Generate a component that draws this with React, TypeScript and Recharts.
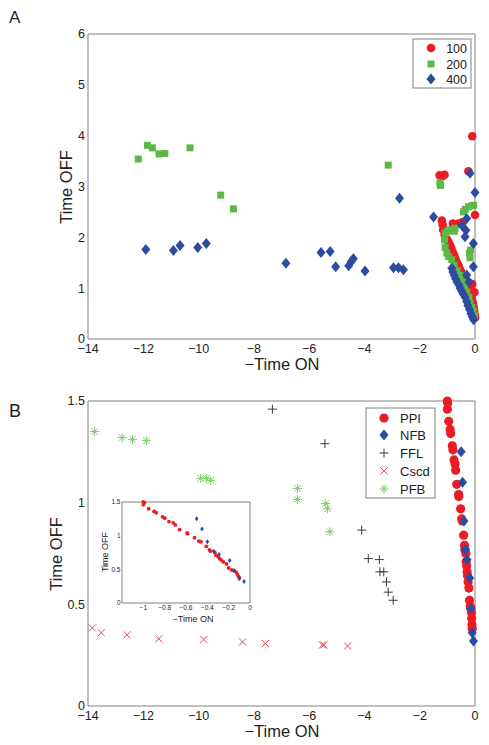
import { ScatterChart, Scatter, XAxis, YAxis } from 'recharts';

const RED = '#ec1c24';
const GREEN = '#5db946';
const BLUE = '#2c4ca2';
const CSCD = '#e5474d';
const PFB = '#7ccb6a';
const FFL = '#3a3a3a';
const AXIS = '#808080';
const TEXT = '#222';
const FONT = '"Liberation Sans", Arial, sans-serif';

// Panel A: -Time ON vs Time OFF for three input levels
const X_TICKS = [-14, -12, -10, -8, -6, -4, -2, 0];
const A_Y_TICKS = [0, 1, 2, 3, 4, 5, 6];
const B_Y_TICKS = [0, 0.5, 1, 1.5];
const INSET_X_TICKS = [-1, -0.8, -0.6, -0.4, -0.2, 0];

const level100 = [
  [-0.1, 3.99], [-0.24, 3.3], [-1.28, 3.22], [-1.1, 3.23], [-1.18, 3.2], [0, 2.44],
  [-1.2, 2.33], [-1.17, 2.25], [-0.8, 2.27], [-0.6, 2.27], [-0.45, 2.3],
  [-1.15, 2.15], [-1.1, 2.05], [-1.05, 1.98], [-1.0, 1.95], [-0.95, 1.9], [-0.9, 1.85],
  [-0.85, 1.78], [-0.8, 1.7], [-0.75, 1.64], [-0.7, 1.57], [-0.65, 1.5], [-0.6, 1.45],
  [-0.55, 1.38], [-0.5, 1.32], [-0.45, 1.25], [-0.4, 1.18], [-0.35, 1.12], [-0.3, 1.06],
  [-0.25, 1.0], [-0.2, 0.95], [-0.15, 0.88], [-0.12, 0.8], [-0.08, 0.72], [-0.05, 0.64],
  [-0.03, 0.56], [-0.01, 0.48], [0, 0.42], [-0.1, 1.08], [-0.02, 0.92], [-0.2, 1.1],
];

const level200 = [
  [-12.18, 3.54], [-11.85, 3.81], [-11.67, 3.76], [-11.43, 3.64], [-11.22, 3.65],
  [-10.31, 3.76], [-9.2, 2.83], [-8.74, 2.56], [-3.14, 3.42], [-1.27, 3.07], [-1.25, 3.02],
  [-0.42, 2.5], [-0.35, 2.55], [-0.24, 2.6], [-0.12, 2.62], [-0.05, 2.63],
  [-1.08, 2.08], [-1.0, 2.12], [-0.9, 2.15], [-0.72, 2.18], [-0.75, 2.12],
  [-1.1, 1.95], [-1.08, 1.8], [-1.02, 1.69], [-0.95, 1.62], [-0.84, 1.56], [-0.75, 1.45],
  [-0.65, 1.35], [-0.55, 1.25], [-0.45, 1.12], [-0.38, 1.02], [-0.3, 0.92], [-0.22, 0.82],
  [-0.18, 0.7], [-0.12, 0.62], [-0.06, 0.55], [-0.02, 0.45], [-0.2, 1.69], [-0.18, 1.6],
  [-0.16, 1.75],
];

const level400 = [
  [-11.91, 1.76], [-10.91, 1.74], [-10.67, 1.84], [-10.03, 1.8], [-9.72, 1.88],
  [-6.84, 1.49], [-5.57, 1.7], [-5.24, 1.72], [-5.04, 1.42], [-4.57, 1.44], [-4.48, 1.52],
  [-4.4, 1.58], [-3.98, 1.34], [-2.95, 1.4], [-2.77, 1.4], [-2.59, 1.36], [-2.73, 2.77],
  [-1.5, 2.4], [-0.18, 3.26], [0, 2.88], [-0.3, 2.37], [-0.48, 2.24], [-0.33, 2.14],
  [-0.36, 2.01], [-0.06, 1.88], [-0.06, 1.42], [-0.84, 1.39], [-0.8, 1.32], [-0.75, 1.25],
  [-0.7, 1.18], [-0.65, 1.12], [-0.58, 1.06], [-0.54, 1.0], [-0.48, 0.94], [-0.42, 0.88],
  [-0.36, 0.82], [-0.3, 0.74], [-0.26, 0.66], [-0.2, 0.58], [-0.15, 0.5], [-0.1, 0.44],
  [-0.05, 0.38], [-0.3, 1.26], [-0.22, 1.12],
];

// Panel B: circuit motifs
const ppi = [
  [-1.0, 1.5], [-1.0, 1.46], [-0.99, 1.49], [-0.95, 1.4], [-0.9, 1.36], [-0.88, 1.34],
  [-0.82, 1.28], [-0.8, 1.26], [-0.76, 1.21], [-0.72, 1.19], [-0.7, 1.16], [-0.66, 1.09],
  [-0.59, 1.04], [-0.585, 1.03], [-0.52, 0.97], [-0.48, 0.92], [-0.46, 0.91], [-0.41, 0.84],
  [-0.38, 0.79], [-0.37, 0.77], [-0.33, 0.75], [-0.32, 0.71], [-0.3, 0.69], [-0.285, 0.66],
  [-0.27, 0.64], [-0.25, 0.61], [-0.22, 0.58], [-0.2, 0.52], [-0.17, 0.49], [-0.15, 0.48],
  [-0.13, 0.46], [-0.12, 0.43], [-0.11, 0.4], [-0.1, 0.38],
];
const nfb = [
  [-0.5, 1.25], [-0.45, 1.1], [-0.4, 0.91], [-0.34, 0.77], [-0.29, 0.72], [-0.19, 0.63],
  [-0.15, 0.48], [-0.1, 0.36], [-0.055, 0.32],
];
const ffl = [
  [-7.33, 1.46], [-5.43, 1.29], [-4.1, 0.865], [-3.86, 0.725], [-3.46, 0.72], [-3.44, 0.66],
  [-3.3, 0.66], [-3.2, 0.61], [-3.14, 0.56], [-2.96, 0.52],
];
const cscd = [
  [-13.84, 0.384], [-13.52, 0.36], [-12.59, 0.35], [-11.44, 0.33], [-9.81, 0.327],
  [-8.41, 0.315], [-7.58, 0.307], [-5.52, 0.3], [-5.47, 0.3], [-4.61, 0.295],
];
const pfb = [
  [-13.76, 1.35], [-12.77, 1.32], [-12.39, 1.31], [-11.89, 1.305], [-9.92, 1.12],
  [-9.72, 1.12], [-9.56, 1.11], [-6.42, 1.07], [-6.42, 1.016], [-5.4, 0.996], [-5.33, 0.97],
  [-5.25, 0.857],
];

const pts = (arr: number[][]) => arr.map(([x, y]) => ({ x, y }));
const minus = (v: number) => String(v).replace('-', '\u2212');

// marker shapes
const dot = (r: number, fill: string) => (p: any) => <circle cx={p.cx} cy={p.cy} r={r} fill={fill} />;
const square = (s: number, fill: string) => (p: any) => (
  <rect x={p.cx - s / 2} y={p.cy - s / 2} width={s} height={s} fill={fill} />
);
const diamond = (w: number, h: number, fill: string) => (p: any) => (
  <polygon
    points={`${p.cx},${p.cy - h / 2} ${p.cx + w / 2},${p.cy} ${p.cx},${p.cy + h / 2} ${p.cx - w / 2},${p.cy}`}
    fill={fill}
  />
);
const plus = (a: number, stroke: string) => (p: any) => (
  <path d={`M${p.cx - a},${p.cy}H${p.cx + a}M${p.cx},${p.cy - a}V${p.cy + a}`} stroke={stroke} strokeWidth={1} />
);
const cross = (a: number, stroke: string) => (p: any) => (
  <path
    d={`M${p.cx - a},${p.cy - a}L${p.cx + a},${p.cy + a}M${p.cx - a},${p.cy + a}L${p.cx + a},${p.cy - a}`}
    stroke={stroke}
    strokeWidth={1}
  />
);
const star = (a: number, stroke: string) => (p: any) => {
  const d = a * 0.72;
  return (
    <path
      d={`M${p.cx - a},${p.cy}H${p.cx + a}M${p.cx},${p.cy - a}V${p.cy + a}M${p.cx - d},${p.cy - d}L${p.cx + d},${p.cy + d}M${p.cx - d},${p.cy + d}L${p.cx + d},${p.cy - d}`}
      stroke={stroke}
      strokeWidth={1}
    />
  );
};

// box frame with inward ticks on all four sides, MATLAB style
// (the labelled axes take 1px each; the mirrored ones take no room)
const frame = (xDomain: number[], yDomain: number[], xTicks: number[], yTicks: number[], fontSize: number, len: number, xGap: number, yGap: number) => {
  const none = () => '';
  const line = { stroke: AXIS };
  return [
    <XAxis key="xm" xAxisId="m" type="number" dataKey="x" domain={xDomain} ticks={xTicks} interval={0} height={1}
      tickLine={false} tickSize={0} tickMargin={xGap} axisLine={line} tickFormatter={minus}
      tick={{ fill: TEXT, fontSize, fontFamily: FONT }} />,
    <XAxis key="xb" xAxisId="b" type="number" domain={xDomain} ticks={xTicks} interval={0} height={1} mirror
      tickSize={len} tickLine={line} axisLine={false} tickFormatter={none} />,
    <XAxis key="xt" xAxisId="t" orientation="top" type="number" domain={xDomain} ticks={xTicks} interval={0} height={1} mirror
      tickSize={len} tickLine={line} axisLine={line} tickFormatter={none} />,
    <YAxis key="ym" yAxisId="m" type="number" dataKey="y" domain={yDomain} ticks={yTicks} interval={0} width={1}
      tickLine={false} tickSize={0} tickMargin={yGap} axisLine={line} tick={{ fill: TEXT, fontSize, fontFamily: FONT }} />,
    <YAxis key="yl" yAxisId="l" type="number" domain={yDomain} ticks={yTicks} interval={0} width={1} mirror
      tickSize={len} tickLine={line} axisLine={false} tickFormatter={none} />,
    <YAxis key="yr" yAxisId="r" orientation="right" type="number" domain={yDomain} ticks={yTicks} interval={0} width={1} mirror
      tickSize={len} tickLine={line} axisLine={line} tickFormatter={none} />,
  ];
};

const series = (data: number[][], shape: any, name: string) => (
  <Scatter key={name} name={name} xAxisId="m" yAxisId="m" data={pts(data)} shape={shape} isAnimationActive={false} />
);

const App = () => {
  return (
    <div style={{ position: 'absolute', left: 0, top: 0, width: 489, height: 745, background: '#fff', fontFamily: FONT }}>
      {/* Panel A */}
      <div style={{ position: 'absolute', left: 0, top: 0 }}>
        <ScatterChart width={489} height={372} margin={{ top: 34, right: 14, bottom: 32, left: 87 }}>
          {frame([-14, 0], [0, 6], X_TICKS, A_Y_TICKS, 12.5, 4, 5, 3)}
          {series(level100, dot(4.3, RED), '100')}
          {series(level200, square(7, GREEN), '200')}
          {series(level400, diamond(9, 11, BLUE), '400')}
        </ScatterChart>
      </div>

      {/* Panel B */}
      <div style={{ position: 'absolute', left: 0, top: 370 }}>
        <ScatterChart width={489} height={370} margin={{ top: 31, right: 14, bottom: 33, left: 87 }}>
          {frame([-14, 0], [0, 1.5], X_TICKS, B_Y_TICKS, 12.5, 4, 5, 3)}
          {series(cscd, cross(3.5, CSCD), 'Cscd')}
          {series(pfb, star(4.5, PFB), 'PFB')}
          {series(ffl, plus(4.5, FFL), 'FFL')}
          {series(ppi, dot(4.6, RED), 'PPI')}
          {series(nfb, diamond(9, 11, BLUE), 'NFB')}
        </ScatterChart>
      </div>

      {/* Inset of panel B */}
      <div style={{ position: 'absolute', left: 80, top: 490 }}>
        <ScatterChart width={190} height={140} margin={{ top: 12, right: 20, bottom: 26, left: 41 }}>
          {frame([-1.2, 0], [0, 1.5], INSET_X_TICKS, B_Y_TICKS, 6.5, 2, 2, 1.5)}
          {series(ppi, dot(1.9, RED), 'PPI')}
          {series(nfb, diamond(3.6, 5, BLUE), 'NFB')}
        </ScatterChart>
      </div>

      {/* labels and legends */}
      <svg width={489} height={745} style={{ position: 'absolute', left: 0, top: 0, pointerEvents: 'none' }}
        fontFamily={FONT} fill={TEXT}>
        <text x={9} y={23} fontSize={17}>A</text>
        <text x={9} y={417} fontSize={18}>B</text>

        <text x={282} y={370} fontSize={16.5} textAnchor="middle">−Time ON</text>
        <text transform="translate(72,187) rotate(-90)" fontSize={16.5} textAnchor="middle">Time OFF</text>
        <text x={282} y={737} fontSize={16.5} textAnchor="middle">−Time ON</text>
        <text transform="translate(62,554) rotate(-90)" fontSize={16.5} textAnchor="middle">Time OFF</text>
        <text x={193} y={622} fontSize={9} textAnchor="middle">−Time ON</text>
        <text transform="translate(108,552) rotate(-90)" fontSize={9} textAnchor="middle">Time OFF</text>

        <rect x={413} y={39} width={58} height={49} fill="#fff" stroke={AXIS} />
        <circle cx={431} cy={48} r={4.3} fill={RED} />
        <rect x={427.5} y={60.5} width={7} height={7} fill={GREEN} />
        <polygon points="431,73.5 435.5,79 431,84.5 426.5,79" fill={BLUE} />
        <text x={467} y={52.5} fontSize={12.5} textAnchor="end">100</text>
        <text x={467} y={68.5} fontSize={12.5} textAnchor="end">200</text>
        <text x={467} y={83.5} fontSize={12.5} textAnchor="end">400</text>

        <rect x={366} y={408} width={69} height={90} fill="#fff" stroke={AXIS} />
        <circle cx={384} cy={418} r={4.6} fill={RED} />
        <polygon points="384,429.5 388.5,435 384,440.5 379.5,435" fill={BLUE} />
        <path d="M379.5,453H388.5M384,448.5V457.5" stroke={FFL} />
        <path d="M380.5,467.5L387.5,474.5M380.5,474.5L387.5,467.5" stroke={CSCD} />
        <path d="M379.5,489H388.5M384,484.5V493.5M380.8,485.8L387.2,492.2M380.8,492.2L387.2,485.8" stroke={PFB} />
        <text x={400} y={422.5} fontSize={13}>PPI</text>
        <text x={400} y={439.5} fontSize={13}>NFB</text>
        <text x={400} y={457.5} fontSize={13}>FFL</text>
        <text x={400} y={475.5} fontSize={13}>Cscd</text>
        <text x={400} y={493.5} fontSize={13}>PFB</text>
      </svg>
    </div>
  );
};

export default App;
